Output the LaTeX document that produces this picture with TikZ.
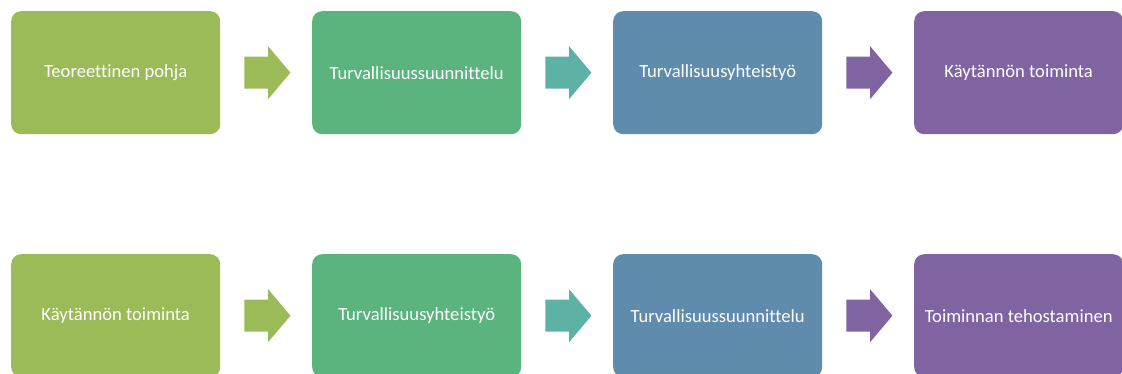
\documentclass[tikz,border=0pt]{standalone}
\usepackage{fontspec}
\setmainfont{Carlito}[Ligatures=NoCommon]
\usetikzlibrary{calc}
\definecolor{cgreen}{HTML}{9BBB59}
\definecolor{cmint}{HTML}{5BB37E}
\definecolor{cteal}{HTML}{5EB1A5}
\definecolor{cblue}{HTML}{5F8BAD}
\definecolor{cpurple}{HTML}{8064A2}
\tikzset{
  box/.style={fill=#1, rounded corners=10pt, minimum width=209pt, minimum height=123pt,
    inner sep=0pt, text=white, font=\fontsize{18.6}{22}\selectfont, anchor=north west},
  blockarrow/.style={fill=#1}
}
\newcommand{\blockarr}[2]{%
  \fill[blockarrow=#2] ($(#1.east)+(24pt,-16pt)$) -- ++(23.7pt,0) -- ++(0,-10.5pt)
    -- ++(22.3pt,26.5pt) -- ++(-22.3pt,26.5pt) -- ++(0,-10.5pt) -- ++(-23.7pt,0) -- cycle;}
\begin{document}
\begin{tikzpicture}[x=1pt,y=-1pt]
\useasboundingbox (0,0) rectangle (1122,374);
\begin{scope}
\clip (0,0) rectangle (1122,374);
\node[box=cgreen]  (a1) at (11,11)  {Teoreettinen pohja};
\node[box=cmint]   (a2) at (312,11) {Turvallisuussuunnittelu};
\node[box=cblue]   (a3) at (613,11) {Turvallisuusyhteistyö};
\node[box=cpurple] (a4) at (914,11) {Käytännön toiminta};
\node[box=cgreen]  (b1) at (11,254)  {Käytännön toiminta};
\node[box=cmint]   (b2) at (312,254) {Turvallisuusyhteistyö};
\node[box=cblue]   (b3) at (613,254) {Turvallisuussuunnittelu};
\node[box=cpurple] (b4) at (914,254) {Toiminnan tehostaminen};
\blockarr{a1}{cgreen}
\blockarr{a2}{cteal}
\blockarr{a3}{cpurple}
\blockarr{b1}{cgreen}
\blockarr{b2}{cteal}
\blockarr{b3}{cpurple}
\end{scope}
\end{tikzpicture}
\end{document}
